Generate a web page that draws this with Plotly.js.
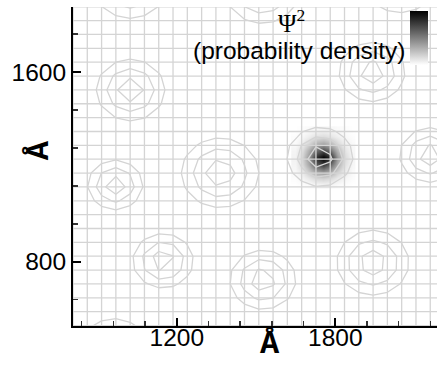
<!DOCTYPE html>
<html>
<head>
<meta charset="utf-8">
<script src="https://cdn.plot.ly/plotly-3.0.1.min.js"></script>
<style>html,body{margin:0;padding:0;background:#fff;}#chart{width:437px;height:366px;}</style>
</head>
<body>
<div id="chart"></div>
<script>
// ---- data ----
const xTickVals = [1200, 1800];
const yTickVals = [800, 1600];
// centres (Å) and outer ring radius (Å) of the grey contour rings
const ringX = [1023, 1523, 2045, 1025, 1939, 967, 1364, 1742, 2158, 1148, 1526, 1942, 963];
const ringY = [1966, 1945, 1990, 1524, 1600, 1124, 1175, 1242, 1250, 804, 724, 796, 430];
const ringR = [140, 140, 140, 130, 125, 105, 147, 125, 115, 115, 125, 137, 130];
// probability density blob (Ψ²), sampled values
const blobX = [1647, 1674, 1701, 1728, 1755, 1782, 1809, 1836, 1863];
const blobY = [1124, 1153, 1182, 1211, 1240, 1269, 1298, 1327, 1356];
const blobZ = [
  [0.00, 0.01, 0.02, 0.04, 0.05, 0.04, 0.02, 0.01, 0.00],
  [0.01, 0.04, 0.09, 0.15, 0.17, 0.14, 0.08, 0.04, 0.01],
  [0.03, 0.09, 0.22, 0.36, 0.42, 0.34, 0.19, 0.08, 0.02],
  [0.04, 0.15, 0.36, 0.64, 0.78, 0.60, 0.32, 0.12, 0.03],
  [0.05, 0.17, 0.42, 0.82, 1.00, 0.84, 0.40, 0.15, 0.04],
  [0.04, 0.13, 0.33, 0.57, 0.70, 0.55, 0.29, 0.11, 0.03],
  [0.02, 0.07, 0.17, 0.29, 0.34, 0.27, 0.15, 0.06, 0.02],
  [0.01, 0.03, 0.07, 0.11, 0.13, 0.10, 0.06, 0.03, 0.01],
  [0.00, 0.01, 0.02, 0.03, 0.04, 0.03, 0.02, 0.01, 0.00]
];

// ---- computational mesh (structure of the plot) ----
const meshX = []; for (let i = 0; i < 27; i++) meshX.push(807 + i * 54.1);
const meshY = []; for (let j = 0; j < 24; j++) meshY.push(531 + j * 58.44);

// scaled distance field for the contour rings, built from the ring table
const ringZ = meshY.map(y => meshX.map(x => {
  let m = Infinity;
  for (let k = 0; k < ringX.length; k++) {
    const d = Math.hypot(x - ringX[k], y - ringY[k]) / ringR[k];
    if (d < m) m = d;
  }
  return m;
}));

// mesh lines
const gx = [], gy = [];
const yLo = meshY[0], yHi = meshY[meshY.length - 1] + 60;
meshX.forEach(x => { gx.push(x, x, null); gy.push(yLo - 10, yHi, null); });
meshY.forEach(y => { gx.push(790, 2200, null); gy.push(y, y, null); });

const gridCol = '#d4d4d4';
const traces = [
  {
    type: 'heatmap', x: blobX, y: blobY, z: blobZ, zsmooth: 'best', zmin: 0, zmax: 1,
    colorscale: [[0, '#ffffff'], [1, '#000000']], hoverinfo: 'skip',
    colorbar: {
      x: 0.926, xanchor: 'left', xpad: 0, y: 0.9875, yanchor: 'top', ypad: 0,
      thickness: 18, thicknessmode: 'pixels', len: 54, lenmode: 'pixels',
      outlinewidth: 0, borderwidth: 0, ticks: '', showticklabels: false
    }
  },
  {
    type: 'contour', x: meshX, y: meshY, z: ringZ, showscale: false, hoverinfo: 'skip',
    contours: { coloring: 'none', start: 0.38, end: 1.0, size: 0.31 },
    line: { color: gridCol, width: 1.3, smoothing: 0 }
  },
  {
    type: 'scatter', mode: 'lines', x: gx, y: gy, hoverinfo: 'skip', showlegend: false,
    line: { color: gridCol, width: 1.3 }
  }
];

const tickFont = { family: 'Liberation Sans, Arial, sans-serif', size: 24.5, color: '#000' };
const layout = {
  width: 437, height: 366,
  margin: { l: 73, r: 0, t: 7, b: 40, autoexpand: false },
  paper_bgcolor: '#fff', plot_bgcolor: '#fff', showlegend: false,
  xaxis: {
    range: [807, 2185], showgrid: false, zeroline: false,
    showline: true, linecolor: '#000', linewidth: 2,
    tickmode: 'array', tickvals: xTickVals, ticktext: xTickVals.map(String),
    ticks: 'inside', ticklen: 8, tickwidth: 2, tickcolor: '#000',
    tickfont: tickFont, ticklabelstandoff: -11,
    minor: { tickmode: 'linear', tick0: 0, dtick: 120, ticks: 'inside', ticklen: 5, tickwidth: 1.5, tickcolor: '#333', showgrid: false }
  },
  yaxis: {
    range: [529, 1874], showgrid: false, zeroline: false,
    showline: true, linecolor: '#000', linewidth: 2,
    tickmode: 'array', tickvals: yTickVals, ticktext: yTickVals.map(String),
    ticks: 'inside', ticklen: 8, tickwidth: 2, tickcolor: '#000',
    tickfont: tickFont,
    minor: { tickmode: 'linear', tick0: 0, dtick: 160, ticks: 'inside', ticklen: 5, tickwidth: 1.5, tickcolor: '#333', showgrid: false }
  },
  annotations: [
    { text: 'Å', xref: 'paper', yref: 'paper', x: 0.541, y: -0.058, xanchor: 'center', yanchor: 'middle',
      showarrow: false, font: { family: 'Liberation Mono, Courier New, monospace', size: 32, color: '#000', weight: 'bold' } },
    { text: 'Å', xref: 'paper', yref: 'paper', x: -0.09, y: 0.552, xanchor: 'center', yanchor: 'middle', textangle: -90,
      showarrow: false, font: { family: 'Liberation Mono, Courier New, monospace', size: 32, color: '#000', weight: 'bold' } },
    { text: 'Ψ<sup>2</sup>', xref: 'paper', yref: 'paper', x: (291 - 73) / 364, y: (326 - 21) / 319, xanchor: 'center', yanchor: 'middle',
      showarrow: false, font: { family: 'Liberation Serif, Times New Roman, serif', size: 25, color: '#000' } },
    { text: '(probability density)', xref: 'paper', yref: 'paper', x: (407 - 73) / 364, y: (326 - 50) / 319, xanchor: 'right', yanchor: 'middle',
      showarrow: false, font: { family: 'Liberation Sans, Arial, sans-serif', size: 24.5, color: '#000' } }
  ]
};

Plotly.newPlot('chart', traces, layout, { displayModeBar: false, staticPlot: true });
</script>
</body>
</html>
